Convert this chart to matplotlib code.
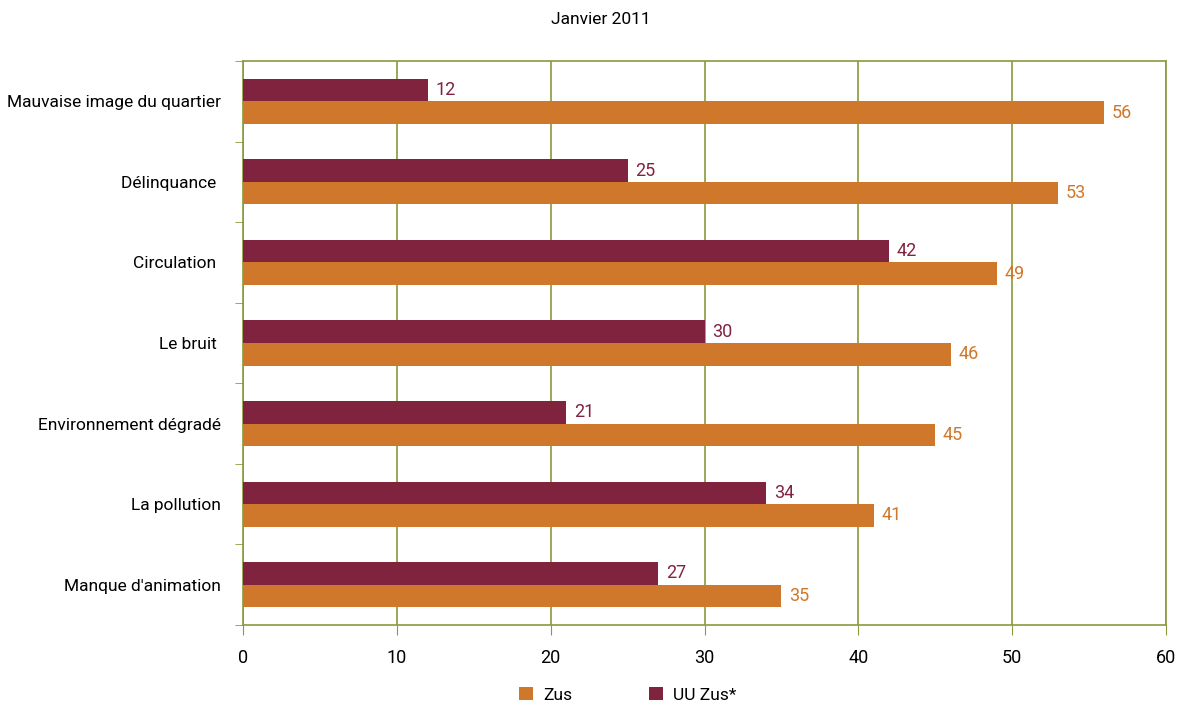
import numpy as np
import matplotlib
matplotlib.use("Agg")
import matplotlib.pyplot as plt

categories = ["Mauvaise image du quartier", "Délinquance ", "Circulation ", "Le bruit ",
              "Environnement dégradé", "La pollution", "Manque d'animation"]
zus = [56, 53, 49, 46, 45, 41, 35]
uu_zus = [12, 25, 42, 30, 21, 34, 27]

orange = "#CF772A"
maroon = "#80233F"
olive = "#8A9A3C"

plt.rcParams['font.family'] = ['Roboto', 'DejaVu Sans']

fig = plt.figure(figsize=(11.79, 7.06), dpi=100)
ax = fig.add_axes([243 / 1179, 1 - 625 / 706, (1166 - 243) / 1179, (625 - 61) / 706])

y = np.arange(len(categories))
h = 0.28
ax.barh(y - h / 2, uu_zus, height=h, color=maroon, label="UU Zus*", zorder=3)
ax.barh(y + h / 2, zus, height=h, color=orange, label="Zus", zorder=3)

for yi, v in zip(y, uu_zus):
    ax.text(v + 0.5, yi - h / 2, str(v), color=maroon, fontsize=13, va="center", ha="left")
for yi, v in zip(y, zus):
    ax.text(v + 0.5, yi + h / 2, str(v), color=orange, fontsize=13, va="center", ha="left")

ax.set_xlim(0, 60)
ax.set_ylim(len(categories) - 0.5, -0.5)
ax.set_xticks(range(0, 61, 10))
ax.set_yticks(y)
ax.set_yticklabels(categories)
ax.set_yticks(np.arange(-0.5, len(categories), 1.0), minor=True)
ax.tick_params(axis="y", which="major", length=0, pad=16, labelsize=12.5)
ax.tick_params(axis="y", which="minor", length=6, color=olive)
ax.tick_params(axis="x", length=7, color=olive, labelsize=13, pad=10)
ax.grid(axis="x", color=olive, linewidth=1.2, zorder=0)
for s in ax.spines.values():
    s.set_color(olive)
    s.set_linewidth(1.2)

fig.text(601 / 1179, 1 - 20 / 706, "Janvier 2011", ha="center", va="center", fontsize=12.5)

handles, labels = ax.get_legend_handles_labels()
fig.legend(handles[::-1], labels[::-1], loc="center", bbox_to_anchor=(628 / 1179, 1 - 695 / 706),
           ncol=2, frameon=False, fontsize=12.5, handlelength=0.8, handleheight=0.8,
           columnspacing=4.4, handletextpad=0.6)

fig.savefig("out.png", dpi=100)
